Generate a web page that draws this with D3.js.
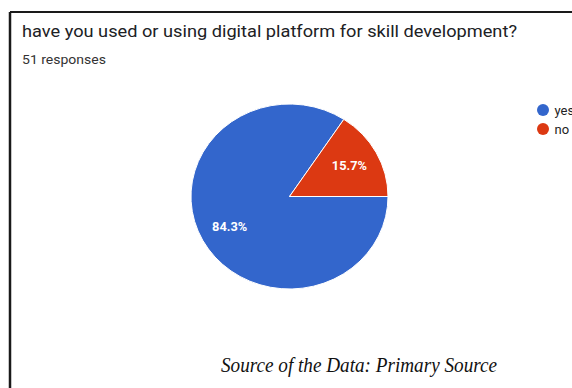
<!DOCTYPE html>
<html>
<head>
<meta charset="utf-8">
<script src="https://cdn.jsdelivr.net/npm/d3@7"></script>
<style>
  html, body { margin: 0; padding: 0; background: #fff; }
  svg { display: block; }
</style>
</head>
<body>
<svg id="chart" width="572" height="388"></svg>
<script>
// Survey answers and their shares
const categories = ["yes", "no"];
const shares = [84.3, 15.7];
const colors = ["#3366cc", "#dc3912"];
const titleText = "have you used or using digital platform for skill development?";
const subtitleText = "51 responses";
const sourceText = "Source of the Data: Primary Source";

const svg = d3.select("#chart");
const W = 572, H = 388;

// Frame lines (top and left)
svg.append("line").attr("x1", 10).attr("y1", 12).attr("x2", W).attr("y2", 12)
  .attr("stroke", "#1a1a1a").attr("stroke-width", 2);
svg.append("line").attr("x1", 10).attr("y1", 12).attr("x2", 10).attr("y2", H)
  .attr("stroke", "#1a1a1a").attr("stroke-width", 2.5);

// Heading (the whole panel is slightly wider than tall, text included)
svg.append("text").attr("x", 22).attr("y", 37)
  .attr("font-family", "Roboto, sans-serif").attr("font-size", 16.5)
  .attr("textLength", 495).attr("lengthAdjust", "spacingAndGlyphs")
  .attr("fill", "#202124").text(titleText);
svg.append("text").attr("x", 22).attr("y", 64)
  .attr("font-family", "Roboto, sans-serif").attr("font-size", 12)
  .attr("textLength", 84).attr("lengthAdjust", "spacingAndGlyphs")
  .attr("fill", "#333").text(subtitleText);

// Pie
const cx = 289.5, cy = 196.5, r = 92.5, sx = 1.065;
const pie = d3.pie().sort(null).value(d => d)
  .startAngle(Math.PI / 2).endAngle(Math.PI / 2 + 2 * Math.PI);
const arcs = pie(shares);
const arc = d3.arc().innerRadius(0).outerRadius(r);
const labelArc = d3.arc().innerRadius(r * 0.69).outerRadius(r * 0.69);

const g = svg.append("g").attr("transform", `translate(${cx},${cy}) scale(${sx},1)`);
g.selectAll("path").data(arcs).join("path")
  .attr("d", arc)
  .attr("fill", (d, i) => colors[i])
  .attr("stroke", "#fff").attr("stroke-width", 1)
  .attr("vector-effect", "non-scaling-stroke");

svg.append("g").selectAll("text").data(arcs).join("text")
  .attr("transform", d => {
    const [x, y] = labelArc.centroid(d);
    return `translate(${cx + x * sx},${cy + y}) scale(${sx},1)`;
  })
  .attr("text-anchor", "middle").attr("dy", "0.35em")
  .attr("font-family", "Roboto, sans-serif").attr("font-size", 12)
  .attr("font-weight", "bold").attr("fill", "#fff")
  .text(d => d.data.toFixed(1) + "%");

// Legend (runs off the right edge of the panel)
const legend = svg.append("g").selectAll("g").data(categories).join("g")
  .attr("transform", (d, i) => `translate(543,${110 + i * 19})`);
legend.append("circle").attr("r", 6).attr("fill", (d, i) => colors[i]);
legend.append("text").attr("x", 11.5).attr("dy", "0.36em")
  .attr("font-family", "Roboto, sans-serif").attr("font-size", 13)
  .attr("fill", "#222").text(d => d);

// Source note
svg.append("text").attr("x", 221).attr("y", 372)
  .attr("font-family", "'Liberation Serif', 'Times New Roman', serif")
  .attr("font-style", "italic").attr("font-size", 20)
  .attr("textLength", 276).attr("lengthAdjust", "spacingAndGlyphs")
  .attr("fill", "#111").text(sourceText);
</script>
</body>
</html>
